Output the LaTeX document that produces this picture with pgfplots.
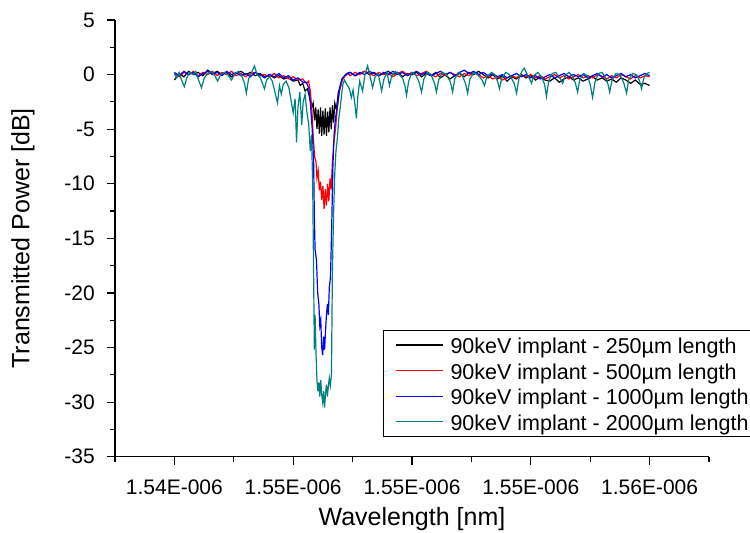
\documentclass[border=0pt]{standalone}
\usepackage{pgfplots}
\pgfplotsset{compat=1.18}
\usepackage{fontspec}
\setmainfont{Liberation Sans}
\definecolor{tealc}{RGB}{0,128,128}

\begin{document}
\begin{tikzpicture}
\useasboundingbox (0,0) rectangle (750pt,533pt);
\begin{axis}[
  at={(115pt,76.3pt)}, anchor=south west,
  scale only axis, width=594pt, height=436.7pt,
  xmin=1537.5, xmax=1562.5, ymin=-35, ymax=5,
  axis lines=left, axis line style={-, line width=1.2pt},
  xtick={1540,1545,1550,1555,1560},
  xticklabels={1.54E-006,1.55E-006,1.55E-006,1.55E-006,1.56E-006},
  minor xtick={1537.5,1542.5,1547.5,1552.5,1557.5,1562.5},
  ytick={-35,-30,-25,-20,-15,-10,-5,0,5},
  yticklabels={-35,-30,-25,-20,-15,-10,-5,0,5},
  minor ytick={-32.5,-27.5,-22.5,-17.5,-12.5,-7.5,-2.5,2.5},
  xtick align=outside, ytick align=outside,
  major tick length=8pt, minor tick length=5pt,
  every tick/.style={black, line width=1.2pt},
  tick label style={font=\fontsize{21}{25}\selectfont},
  xticklabel style={anchor=north, inner sep=0pt, yshift=-15pt},
  yticklabel style={anchor=east, inner sep=0pt, xshift=-12pt},
  xlabel={Wavelength [nm]},
  ylabel={Transmitted Power [dB]},
  label style={font=\fontsize{25}{30}\selectfont},
  xlabel style={at={(axis description cs:0.5,0)}, anchor=center, yshift=-62pt},
  ylabel style={at={(axis description cs:0,0.5)}, anchor=center, yshift=92pt},
  legend cell align=left,
  legend style={at={(axis description cs:0.4512,0.2900)}, anchor=north west,
    draw=black, line width=0.8pt, inner xsep=12pt, inner ysep=3pt, row sep=2.6pt,
    font=\fontsize{21.5}{25}\selectfont,
    nodes={inner xsep=0pt, inner ysep=0pt, text height=20pt, text depth=3pt},
    /tikz/every odd column/.append style={column sep=7pt}},
  legend image code/.code={\draw[#1, line width=1.1pt] (0pt,0pt) -- (47pt,0pt);},
  every axis plot/.append style={line width=1.2pt},
]
% 250 um (black)
\addplot[black] coordinates {
(1540.0,-0.5) (1540.2,0.1) (1540.4,-0.2) (1540.6,0.3) (1540.8,0.0) (1541.0,0.2) (1541.2,-0.1) (1541.4,0.4) (1541.6,0.1) (1541.8,0.3)
(1542.0,0.0) (1542.2,0.2) (1542.4,-0.2) (1542.6,0.1) (1542.8,0.3) (1543.0,0.0) (1543.2,0.2) (1543.4,-0.1) (1543.6,0.1) (1543.8,-0.2)
(1544.0,0.0) (1544.2,-0.3) (1544.4,-0.1) (1544.6,-0.4) (1544.8,-0.3) (1545.0,-0.6) (1545.2,-0.5)
(1545.3,-1.0) (1545.4,-0.8) (1545.5,-1.5) (1545.6,-1.3) (1545.7,-2.2) (1545.78,-3.0) (1545.84,-2.6) (1545.9,-4.2) (1545.95,-3.0)
(1546.0,-5.0) (1546.05,-3.2) (1546.1,-5.4) (1546.15,-3.0) (1546.2,-5.6) (1546.25,-3.3) (1546.3,-5.5) (1546.35,-3.1) (1546.4,-5.6)
(1546.45,-3.4) (1546.5,-5.3) (1546.55,-3.0) (1546.6,-5.0) (1546.65,-2.8) (1546.7,-4.4) (1546.75,-2.6) (1546.82,-3.2) (1546.9,-1.6)
(1546.98,-1.2) (1547.06,-0.4) (1547.15,-0.2) (1547.25,0.1)
(1547.4,0.2) (1547.6,-0.1) (1547.8,0.1) (1548.0,0.3) (1548.2,0.0) (1548.4,0.2) (1548.6,-0.1) (1548.8,0.1) (1549.0,0.3) (1549.2,0.0)
(1549.4,0.2) (1549.6,-0.2) (1549.8,0.1) (1550.0,0.0) (1550.2,0.2) (1550.4,-0.2) (1550.6,0.1) (1550.8,-0.1) (1551.0,0.2) (1551.2,-0.3)
(1551.4,0.0) (1551.6,-0.4) (1551.8,-0.1) (1552.0,0.1) (1552.2,-0.2) (1552.4,0.2) (1552.6,0.0) (1552.8,0.3) (1553.0,0.0) (1553.2,-0.3)
(1553.4,0.0) (1553.6,-0.4) (1553.8,-0.1) (1554.0,-0.6) (1554.2,-0.2) (1554.4,-0.4) (1554.6,0.0) (1554.8,-0.3) (1555.0,-0.1) (1555.2,-0.5)
(1555.4,-0.2) (1555.6,-0.5) (1555.8,-0.6) (1556.0,-0.3) (1556.2,-0.7) (1556.4,-0.4) (1556.6,-0.2) (1556.8,-0.5) (1557.0,-0.3) (1557.2,-0.6)
(1557.4,-0.4) (1557.6,-0.2) (1557.8,-0.5) (1558.0,-0.3) (1558.2,-0.6) (1558.4,-0.4) (1558.6,-0.7) (1558.8,-0.3) (1559.0,-0.5) (1559.2,-0.8)
(1559.4,-0.5) (1559.6,-0.9) (1559.8,-0.8) (1560.0,-1.0)
};
\addlegendentry{90keV implant - 250µm length}
% 500 um (red)
\addplot[red] coordinates {
(1540.0,0.1) (1540.2,-0.2) (1540.4,0.2) (1540.6,0.0) (1540.8,0.3) (1541.0,-0.1) (1541.2,0.2) (1541.4,0.0) (1541.6,0.3) (1541.8,-0.1)
(1542.0,0.2) (1542.2,0.0) (1542.4,0.3) (1542.6,-0.1) (1542.8,0.1) (1543.0,-0.2) (1543.2,0.1) (1543.4,0.2) (1543.6,-0.1) (1543.8,0.0)
(1544.0,-0.2) (1544.2,0.1) (1544.4,-0.3) (1544.6,-0.1) (1544.8,-0.4) (1545.0,-0.2) (1545.2,-0.5) (1545.4,-0.4) (1545.55,-0.8) (1545.65,-0.6)
(1545.72,-1.5) (1545.78,-3.0) (1545.84,-5.5) (1545.9,-7.5) (1545.96,-8.0) (1546.0,-9.5) (1546.05,-8.8) (1546.1,-10.6) (1546.15,-9.8)
(1546.2,-11.5) (1546.25,-10.2) (1546.3,-12.3) (1546.35,-10.5) (1546.4,-12.0) (1546.45,-10.0) (1546.5,-11.6) (1546.55,-9.5) (1546.6,-10.5)
(1546.65,-8.0) (1546.7,-6.5) (1546.78,-5.0) (1546.86,-3.0) (1546.95,-1.5) (1547.05,-0.6) (1547.15,-0.2) (1547.3,0.1)
(1547.4,-0.1) (1547.6,0.2) (1547.8,0.0) (1548.0,0.3) (1548.2,0.1) (1548.4,-0.1) (1548.6,0.2) (1548.8,0.0) (1549.0,0.1) (1549.2,-0.2)
(1549.4,0.1) (1549.6,0.3) (1549.8,0.0) (1550.0,0.2) (1550.2,-0.1) (1550.4,0.1) (1550.6,0.3) (1550.8,0.0) (1551.0,-0.2) (1551.2,0.1)
(1551.4,-0.1) (1551.6,0.2) (1551.8,0.0) (1552.0,-0.2) (1552.2,0.1) (1552.4,-0.1) (1552.6,0.2) (1552.8,0.0) (1553.0,-0.3) (1553.2,-0.1)
(1553.4,-0.4) (1553.6,-0.2) (1553.8,-0.5) (1554.0,-0.3) (1554.2,-0.1) (1554.4,-0.3) (1554.6,0.0) (1554.8,-0.2) (1555.0,0.0) (1555.2,-0.3)
(1555.4,-0.1) (1555.6,-0.4) (1555.8,-0.2) (1556.0,0.0) (1556.2,-0.3) (1556.4,-0.1) (1556.6,-0.4) (1556.8,-0.2) (1557.0,0.0) (1557.2,-0.3)
(1557.4,-0.1) (1557.6,-0.3) (1557.8,0.0) (1558.0,-0.2) (1558.2,-0.4) (1558.4,-0.1) (1558.6,-0.3) (1558.8,0.0) (1559.0,-0.2) (1559.2,-0.4)
(1559.4,-0.1) (1559.6,-0.3) (1559.8,-0.1) (1560.0,-0.2)
};
\addlegendentry{90keV implant - 500µm length}
% 1000 um (blue)
\addplot[blue] coordinates {
(1540.0,0.2) (1540.2,-0.1) (1540.4,0.3) (1540.6,0.0) (1540.8,0.2) (1541.0,-0.2) (1541.2,0.1) (1541.4,0.3) (1541.6,0.0) (1541.8,0.2)
(1542.0,-0.1) (1542.2,0.3) (1542.4,0.0) (1542.6,0.2) (1542.8,-0.1) (1543.0,0.1) (1543.2,-0.2) (1543.4,0.2) (1543.6,0.0) (1543.8,-0.3)
(1544.0,0.0) (1544.2,-0.2) (1544.4,0.1) (1544.6,-0.3) (1544.8,-0.1) (1545.0,-0.5) (1545.2,-0.3) (1545.4,-0.7)
(1545.55,-0.7) (1545.65,-1.2) (1545.72,-2.5) (1545.8,-5.0) (1545.86,-8.0) (1545.89,-13.0) (1545.92,-16.0) (1545.98,-17.0) (1546.03,-20.0)
(1546.08,-21.0) (1546.12,-23.0) (1546.16,-22.5) (1546.2,-25.0) (1546.24,-25.7) (1546.28,-24.0) (1546.32,-25.2) (1546.36,-23.5) (1546.4,-22.0)
(1546.44,-21.0) (1546.48,-22.0) (1546.52,-19.5) (1546.57,-18.5) (1546.62,-14.0) (1546.67,-8.5) (1546.72,-5.5) (1546.78,-4.0) (1546.86,-2.8)
(1546.95,-1.2) (1547.05,-0.4) (1547.2,0.0)
(1547.4,0.2) (1547.6,-0.1) (1547.8,0.2) (1548.0,0.0) (1548.2,0.3) (1548.4,0.1) (1548.6,-0.1) (1548.8,0.2) (1549.0,0.0) (1549.2,0.3)
(1549.4,0.0) (1549.6,0.2) (1549.8,-0.1) (1550.0,0.1) (1550.2,0.3) (1550.4,0.0) (1550.6,0.2) (1550.8,-0.1) (1551.0,0.1) (1551.2,0.3)
(1551.4,0.0) (1551.6,0.2) (1551.8,-0.1) (1552.0,0.2) (1552.2,0.4) (1552.4,0.1) (1552.6,0.3) (1552.8,0.0) (1553.0,0.2) (1553.2,-0.1)
(1553.4,0.1) (1553.6,-0.2) (1553.8,0.0) (1554.0,-0.3) (1554.2,-0.1) (1554.4,0.1) (1554.6,-0.2) (1554.8,0.0) (1555.0,-0.3) (1555.2,-0.1)
(1555.4,-0.4) (1555.6,-0.2) (1555.8,0.0) (1556.0,-0.3) (1556.2,-0.1) (1556.4,0.1) (1556.6,-0.2) (1556.8,0.0) (1557.0,-0.2) (1557.2,0.0)
(1557.4,-0.3) (1557.6,-0.1) (1557.8,0.1) (1558.0,-0.2) (1558.2,0.0) (1558.4,-0.3) (1558.6,-0.1) (1558.8,0.1) (1559.0,-0.2) (1559.2,0.0)
(1559.4,-0.3) (1559.6,-0.1) (1559.8,0.1) (1560.0,-0.1)
};
\addlegendentry{90keV implant - 1000µm length}
% 2000 um (teal)
\addplot[tealc] coordinates {
(1540.0,0.1) (1540.1,-0.3) (1540.2,0.2) (1540.3,-0.5) (1540.42,-1.1) (1540.52,-0.3) (1540.65,0.2) (1540.78,0.0) (1540.9,0.3) (1541.0,-0.4)
(1541.14,-1.2) (1541.26,-0.3) (1541.4,0.1) (1541.55,0.3) (1541.7,-0.1) (1541.82,-0.6) (1541.95,0.0) (1542.1,0.2) (1542.25,0.0) (1542.4,-0.5)
(1542.55,0.1) (1542.7,0.3) (1542.85,-0.2) (1542.95,-0.8) (1543.03,-1.7) (1543.12,-0.4) (1543.25,0.2) (1543.37,0.8) (1543.48,0.0) (1543.62,-0.3)
(1543.72,-0.9) (1543.79,-1.3) (1543.88,-0.5) (1544.0,-0.2) (1544.12,-0.6) (1544.22,-1.5) (1544.34,-2.6) (1544.42,-1.0) (1544.5,-1.8) (1544.58,-0.9)
(1544.7,-0.6) (1544.82,-1.2) (1544.92,-2.5) (1545.0,-3.5) (1545.08,-2.2) (1545.14,-6.2) (1545.2,-3.0) (1545.28,-1.6) (1545.36,-4.6) (1545.42,-2.5)
(1545.5,-1.8) (1545.58,-3.5) (1545.65,-4.5) (1545.72,-7.0) (1545.77,-5.5) (1545.82,-10.0) (1545.86,-18.5) (1545.89,-25.2) (1545.92,-22.0) (1545.96,-25.5)
(1546.0,-28.0) (1546.04,-29.0) (1546.08,-28.2) (1546.12,-29.5) (1546.16,-28.0) (1546.2,-29.3) (1546.24,-30.0) (1546.28,-29.0) (1546.32,-30.5) (1546.36,-29.2)
(1546.4,-28.4) (1546.44,-29.5) (1546.48,-28.5) (1546.52,-27.8) (1546.56,-28.5) (1546.61,-27.5) (1546.65,-18.0) (1546.7,-12.7) (1546.75,-9.0) (1546.8,-7.0)
(1546.86,-5.8) (1546.92,-4.0) (1546.98,-3.0) (1547.05,-1.6) (1547.1,-0.8) (1547.16,-0.5) (1547.25,-0.9) (1547.35,-1.2) (1547.45,-2.1) (1547.52,-1.4)
(1547.6,-2.8) (1547.66,-4.0) (1547.72,-2.0) (1547.8,-0.6) (1547.92,-1.5) (1548.02,0.0) (1548.13,0.8) (1548.22,0.0) (1548.34,-1.2) (1548.45,-0.2)
(1548.58,0.1) (1548.72,-1.5) (1548.82,-0.4) (1548.95,0.2) (1549.05,-1.0) (1549.15,-0.1) (1549.3,0.3) (1549.45,0.0) (1549.6,-0.3) (1549.7,-1.0)
(1549.77,-1.9) (1549.86,-0.6) (1550.0,0.2) (1550.15,0.0) (1550.3,-0.7) (1550.4,-1.6) (1550.5,-0.4) (1550.65,0.2) (1550.8,0.0) (1550.95,-0.8)
(1551.03,-1.6) (1551.12,-0.5) (1551.28,0.2) (1551.45,0.0) (1551.62,-0.7) (1551.71,-1.6) (1551.8,-0.4) (1551.95,0.2) (1552.1,0.0) (1552.25,-0.8)
(1552.34,-1.7) (1552.44,-0.4) (1552.6,0.2) (1552.75,0.0) (1552.95,-0.5) (1553.05,-1.0) (1553.15,-0.2) (1553.35,0.2) (1553.5,-0.1) (1553.6,-0.6)
(1553.68,-1.3) (1553.78,-0.3) (1553.95,0.2) (1554.1,0.0) (1554.3,-0.8) (1554.4,-1.7) (1554.5,-0.4) (1554.62,0.3) (1554.72,0.6) (1554.85,0.0)
(1554.95,-0.4) (1555.03,-0.8) (1555.12,-0.1) (1555.3,0.2) (1555.45,-0.2) (1555.58,-0.9) (1555.66,-2.0) (1555.75,-0.6) (1555.9,0.1) (1556.05,0.2)
(1556.2,-0.2) (1556.34,-0.8) (1556.45,-0.1) (1556.6,0.2) (1556.75,-0.1) (1556.88,-0.8) (1556.97,-1.6) (1557.06,-0.5) (1557.22,0.1) (1557.38,-0.1)
(1557.5,-0.9) (1557.6,-2.1) (1557.7,-0.7) (1557.85,0.1) (1558.0,0.2) (1558.15,-0.3) (1558.25,-0.9) (1558.32,-1.6) (1558.42,-0.5) (1558.58,0.1)
(1558.75,0.0) (1558.92,-0.8) (1559.03,-1.7) (1559.12,-0.5) (1559.28,0.1) (1559.45,0.0) (1559.58,-0.6) (1559.66,-1.3) (1559.76,-0.3) (1559.9,0.1)
(1560.0,0.2)
};
\addlegendentry{90keV implant - 2000µm length}
\end{axis}
\end{tikzpicture}
\end{document}
